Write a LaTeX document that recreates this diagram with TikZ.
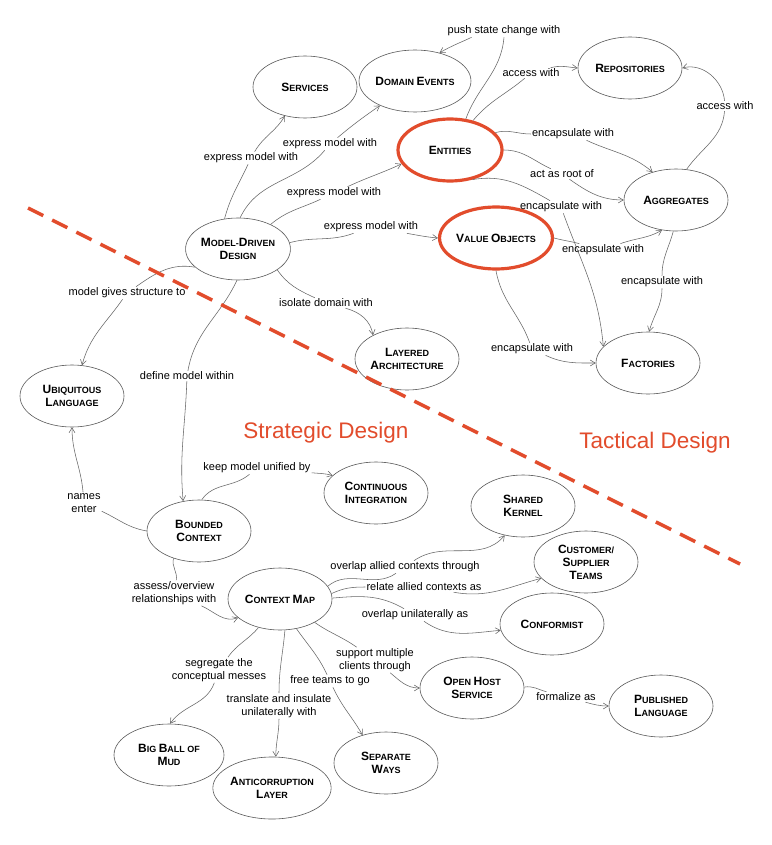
\documentclass[tikz,border=0pt]{standalone}
\usepackage{fontspec}
\setmainfont{Liberation Sans}
\usetikzlibrary{arrows.meta,shapes.geometric}
\definecolor{dddred}{RGB}{226,76,44}
\newcommand\Cp[1]{{\fontsize{12}{13}\selectfont #1}}
\tikzset{
  concept/.style={ellipse, draw=black!65, line width=0.6pt, minimum width=104pt,
    minimum height=62pt, inner sep=0pt, align=center,
    font=\fontsize{9}{13}\selectfont\bfseries},
  keyconcept/.style={concept, draw=dddred, line width=3.2pt},
  lbl/.style={inner sep=1pt, align=center, font=\fontsize{11}{13}\selectfont},
  conn/.style={draw=black!60, line width=0.55pt},
  arr/.style={conn, -{Straight Barb[length=5pt,width=6pt]}},
  dashline/.style={draw=dddred, line width=3.5pt, dash pattern=on 17pt off 10pt},
  areatitle/.style={text=dddred, font=\fontsize{22.5}{26}\selectfont}
}
\begin{document}
\begin{tikzpicture}[x=1pt,y=1pt]
\fill[white] (0,0) rectangle (771,-845);
\useasboundingbox (0,0) rectangle (771,-845);

% concepts
\node[concept] (serv) at (305,-87) {\Cp{S}ERVICES};
\node[concept] (devt) at (415,-81) {\Cp{D}OMAIN \Cp{E}VENTS};
\node[concept] (repo) at (630,-68) {\Cp{R}EPOSITORIES};
\node[keyconcept] (ent) at (450,-150) {\Cp{E}NTITIES};
\node[concept] (agg) at (676,-200) {\Cp{A}GGREGATES};
\node[concept] (mdd) at (238,-249) {\Cp{M}ODEL-\Cp{D}RIVEN\\\Cp{D}ESIGN};
\node[keyconcept] (vo) at (496,-238) {\Cp{V}ALUE \Cp{O}BJECTS};
\node[concept] (layer) at (407,-359) {\Cp{L}AYERED\\\Cp{A}RCHITECTURE};
\node[concept] (fact) at (648,-363) {\Cp{F}ACTORIES};
\node[concept] (ubiq) at (72,-396) {\Cp{U}BIQUITOUS\\\Cp{L}ANGUAGE};
\node[concept] (ci) at (376,-493) {\Cp{C}ONTINUOUS\\\Cp{I}NTEGRATION};
\node[concept] (sk) at (523,-506) {\Cp{S}HARED\\\Cp{K}ERNEL};
\node[concept] (bc) at (199,-531) {\Cp{B}OUNDED\\\Cp{C}ONTEXT};
\node[concept] (cst) at (586,-562) {\Cp{C}USTOMER/\\\Cp{S}UPPLIER\\\Cp{T}EAMS};
\node[concept] (cm) at (280,-599) {\Cp{C}ONTEXT \Cp{M}AP};
\node[concept] (conf) at (552,-624) {\Cp{C}ONFORMIST};
\node[concept] (ohs) at (472,-688) {\Cp{O}PEN \Cp{H}OST\\\Cp{S}ERVICE};
\node[concept] (pl) at (661,-706) {\Cp{P}UBLISHED\\\Cp{L}ANGUAGE};
\node[concept, minimum width=110pt] (bbm) at (169,-755) {\Cp{B}IG \Cp{B}ALL OF\\\Cp{M}UD};
\node[concept, minimum width=110pt] (acl) at (272,-788) {\Cp{A}NTICORRUPTION\\\Cp{L}AYER};
\node[concept] (sw) at (386,-763) {\Cp{S}EPARATE\\\Cp{W}AYS};

% labels
\node[lbl] (L1) at (251,-158) {express model with};
\node[lbl] (L2) at (330,-144) {express model with};
\node[lbl] (L3) at (334,-193) {express model with};
\node[lbl] (L4) at (371,-227) {express model with};
\node[lbl] (L5) at (326,-303) {isolate domain with};
\node[lbl] (L6) at (127,-293) {model gives structure to};
\node[lbl] (L7) at (187,-376) {define model within};
\node[lbl] (L8) at (504,-31) {push state change with};
\node[lbl] (L9) at (531,-73) {access with};
\node[lbl] (L10) at (573,-134) {encapsulate with};
\node[lbl] (L11) at (562,-174) {act as root of};
\node[lbl] (L12) at (561,-207) {encapsulate with};
\node[lbl] (L13) at (603,-250) {encapsulate with};
\node[lbl] (L14) at (532,-349) {encapsulate with};
\node[lbl] (L15) at (725,-106) {access with};
\node[lbl] (L16) at (662,-282) {encapsulate with};
\node[lbl] (L17) at (257,-468) {keep model unified by};
\node[lbl] (L18) at (84,-503) {names\\enter};
\node[lbl] (L19) at (174,-593) {assess/overview\\relationships with};
\node[lbl] (L20) at (405,-567) {overlap allied contexts through};
\node[lbl] (L21) at (424,-587) {relate allied contexts as};
\node[lbl] (L22) at (415,-615) {overlap unilaterally as};
\node[lbl] (L23) at (375,-660) {support multiple\\clients through};
\node[lbl] (L24) at (219,-670) {segregate the\\conceptual messes};
\node[lbl] (L25) at (279,-706) {translate and insulate\\unilaterally with};
\node[lbl] (L26) at (330,-681) {free teams to go};
\node[lbl] (L27) at (566,-697) {formalize as};

% area titles
\node[areatitle] (strat) at (326,-433) {Strategic Design};
\node[areatitle] (tact) at (655,-443) {Tactical Design};

% connectors
\draw[arr] (mdd.114) to[out=75,in=-115] (L1) to[out=60,in=-120] (serv.235);
\draw[arr] (mdd.86) to[out=65,in=-130] (L2) to[out=40,in=-145] (devt.215);
\draw[arr] (mdd.37) to[out=40,in=-155] (L3) to[out=25,in=-155] (ent.196);
\draw[arr] (mdd.7) to[out=15,in=-160] (L4) to[out=-10,in=175] (vo.180);
\draw[arr] (mdd.-28) to[out=-55,in=155] (L5) to[out=-15,in=100] (layer.145);
\draw[arr] (mdd.203) to[out=170,in=35] (L6) to[out=-125,in=75] (ubiq.72);
\draw[arr] (mdd.268) to[out=-115,in=80] (L7) to[out=-92,in=95] (bc.118);
\draw[conn] (ent.63) to[out=70,in=-95] (L8.south);
\draw[arr] ([xshift=25pt]L8.south west) to[out=-155,in=30] (devt.49);
\draw[arr] (ent.52) to[out=50,in=-140] (L9) to[out=15,in=175] (repo.180);
\draw[arr] (ent.21) to[out=15,in=180] (L10) to[out=-25,in=140] (agg.130);
\draw[arr] (ent.0) to[out=0,in=155] (L11) to[out=-35,in=180] (agg.180);
\draw[arr] (ent.-53) to[out=10,in=150] (L12) to[out=-70,in=95] (fact.160);
\draw[arr] (vo.0) to[out=-15,in=165] (L13) to[out=20,in=-150] (agg.245);
\draw[arr] (vo.270) to[out=-80,in=110] (L14) to[out=-25,in=180] (fact.180);
\draw[arr] (agg.71) to[out=55,in=-95] (L15) to[out=95,in=15] (repo.0);
\draw[arr] (agg.265) to[out=-105,in=90] (L16) to[out=-90,in=75] (fact.88);
\draw[arr] (bc.85) to[out=55,in=-140] (L17) to[out=-5,in=165] (ci.158);
\draw[arr] (bc.180) to[out=170,in=-25] (L18) to[out=95,in=-90] (ubiq.-90);
\draw[arr] (bc.227) to[out=-105,in=80] (L19) to[out=-25,in=200] (cm.204);
\draw[arr] (cm.15) to[out=40,in=-145] (L20) to[out=35,in=-130] (sk.238);
\draw[arr] (cm.6) to[out=25,in=180] (L21) to[out=-10,in=195] (cst.200);
\draw[arr] (cm.1) to[out=5,in=150] (L22) to[out=-35,in=185] (conf.187);
\draw[arr] (cm.-34) to[out=-35,in=145] (L23) to[out=-40,in=180] (ohs.180);
\draw[arr] (cm.233) to[out=-130,in=55] (L24) to[out=-110,in=55] (bbm.88);
\draw[arr] (cm.-81) to[out=-95,in=90] (L25) to[out=-90,in=90] (acl.83);
\draw[arr] (cm.-61) to[out=-55,in=115] (L26) to[out=-65,in=120] (sw.130);
\draw[arr] (ohs.1) to[out=10,in=165] (L27) to[out=-15,in=180] (pl.180);

% boundary between strategic and tactical design
\coordinate (dA) at (28,-208);
\coordinate (dB) at (740,-564);
\draw[dashline] (dA) -- (dB);
\end{tikzpicture}
\end{document}
